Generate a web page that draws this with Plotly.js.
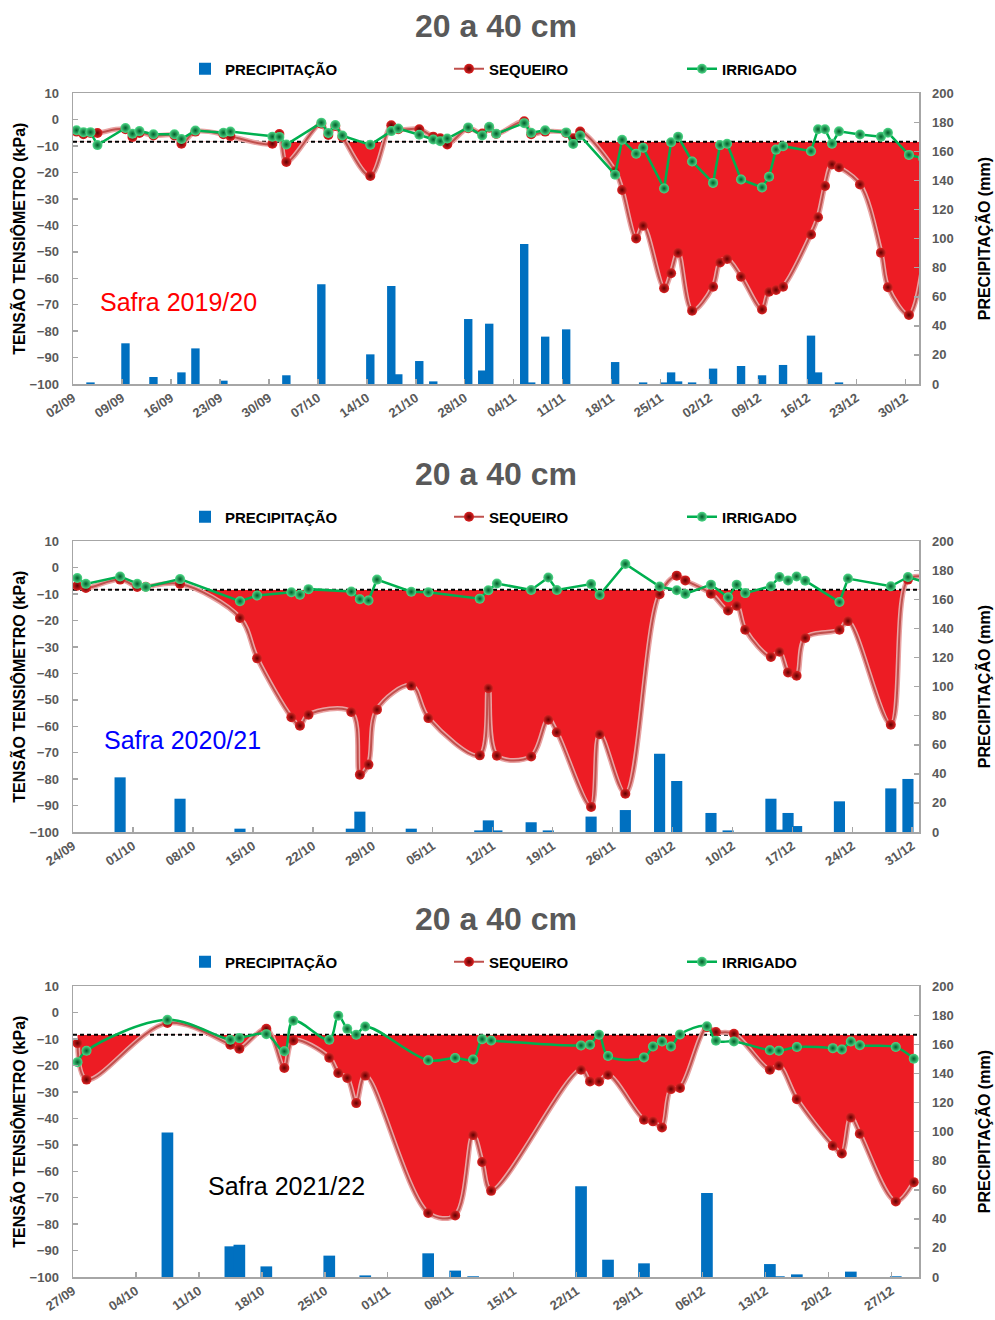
<!DOCTYPE html>
<html>
<head>
<meta charset="utf-8">
<script src="https://cdn.plot.ly/plotly-3.0.1.min.js"></script>
<style>html,body{margin:0;padding:0;background:#fff;}</style>
</head>
<body>
<div id="chart" style="width:995px;height:1320px;"></div>
<script>
// ---------------- DATA ----------------
const thresholdKPa = -8.3;

// Safra 2019/20
const dates2019 = ['2019-09-02','2019-09-03','2019-09-04','2019-09-05','2019-09-09','2019-09-10','2019-09-11','2019-09-13','2019-09-16','2019-09-17','2019-09-19','2019-09-23','2019-09-24','2019-09-30','2019-10-01','2019-10-02','2019-10-07','2019-10-08','2019-10-09','2019-10-10','2019-10-14','2019-10-17','2019-10-18','2019-10-21','2019-10-23','2019-10-24','2019-10-25','2019-10-28','2019-10-30','2019-10-31','2019-11-01','2019-11-05','2019-11-06','2019-11-08','2019-11-11','2019-11-12','2019-11-13','2019-11-18','2019-11-19','2019-11-21','2019-11-22','2019-11-25','2019-11-26','2019-11-27','2019-11-29','2019-12-02','2019-12-03','2019-12-04','2019-12-06','2019-12-09','2019-12-10','2019-12-11','2019-12-12','2019-12-16','2019-12-17','2019-12-18','2019-12-19','2019-12-20','2019-12-23','2019-12-26','2019-12-27','2019-12-30','2020-01-01'];
const sequeiro2019 = [-4.5,-5.5,-5,-5,-3.6,-6.5,-5,-6,-6,-9.1,-4.5,-5.5,-6.2,-9.1,-5.4,-16,-1.5,-5.8,-2.4,-6.5,-21.3,-2.1,-3.6,-3.6,-6.4,-7,-9.4,-3.2,-5.2,-3,-5.4,-0.6,-5.5,-4.5,-5,-7,-4.5,-19.5,-26.6,-44.9,-40.1,-63.8,-58.1,-50.3,-72.3,-63.2,-54,-52.7,-59.4,-71.8,-65.1,-64.4,-63.2,-43.4,-36.9,-25.1,-16.9,-18,-24.5,-50.3,-63.4,-73.9,-55];
const irrigado2019 = [-4,-4.7,-4.7,-9.6,-3.1,-5.3,-4.3,-5.5,-5.5,-7.3,-4.1,-4.9,-4.5,-6.4,-6.5,-9.4,-1.1,-5,-2,-6,-9.5,-4.3,-3.3,-5.7,-7.5,-8.1,-7.1,-2.9,-6,-2.7,-5.3,-1.3,-4.9,-4,-4.8,-9.2,-6,-20.8,-7.6,-12.9,-10.6,-26,-8.5,-6.4,-15.8,-23.9,-9.6,-9.1,-22.6,-25.6,-21.6,-11.3,-10,-11.9,-3.6,-3.6,-9.1,-4.4,-5.6,-6.4,-4.9,-13.3,-14.5];
const rainDates2019 = ['2019-09-04','2019-09-09','2019-09-13','2019-09-17','2019-09-19','2019-09-23','2019-10-02','2019-10-07','2019-10-14','2019-10-17','2019-10-18','2019-10-21','2019-10-23','2019-10-28','2019-10-30','2019-10-31','2019-11-05','2019-11-06','2019-11-08','2019-11-11','2019-11-18','2019-11-22','2019-11-25','2019-11-26','2019-11-27','2019-11-29','2019-12-02','2019-12-06','2019-12-09','2019-12-12','2019-12-16','2019-12-17','2019-12-20'];
const rain2019 = [1.1,28,4.8,8,24.5,2.3,6,68.6,20.4,67.4,6.7,15.8,1.8,44.7,9.3,41.5,96.3,1.1,32.6,37.6,15.1,1.1,1.1,8,1.8,1.1,10.6,12.4,6,13.1,33.3,8,1.1];

// Safra 2020/21
const dates2020 = ['2020-09-24','2020-09-25','2020-09-29','2020-10-01','2020-10-02','2020-10-06','2020-10-13','2020-10-15','2020-10-19','2020-10-20','2020-10-21','2020-10-26','2020-10-27','2020-10-28','2020-10-29','2020-11-02','2020-11-04','2020-11-10','2020-11-11','2020-11-12','2020-11-16','2020-11-18','2020-11-19','2020-11-23','2020-11-24','2020-11-27','2020-12-01','2020-12-03','2020-12-04','2020-12-07','2020-12-09','2020-12-10','2020-12-11','2020-12-14','2020-12-15','2020-12-16','2020-12-17','2020-12-18','2020-12-22','2020-12-23','2020-12-28','2020-12-30','2021-01-01'];
const sequeiro2020 = [-6.8,-7.7,-4.5,-7.3,-7.2,-6.1,-19,-34.3,-56.6,-59.8,-55.6,-54.6,-78.3,-74.5,-53.7,-44.6,-56.9,-71,-45.6,-71.1,-71.4,-57.5,-62.3,-90.5,-63,-85.5,-10,-3,-4.8,-9.8,-16.2,-14.4,-23.5,-33.8,-31.8,-39.6,-40.9,-26.6,-23.5,-20.2,-59.4,-4.5,-3.5];
const irrigado2020 = [-3.9,-6.1,-3.3,-6.1,-7.3,-4.3,-12.7,-10.5,-9.3,-10.2,-8.1,-9,-11.9,-12.4,-4.5,-9.1,-9.3,-11.7,-8.5,-6,-8.4,-3.7,-8.4,-6.2,-10.3,1.4,-7.1,-8.5,-9.9,-6.4,-11.2,-6.4,-9.6,-7,-3.5,-4.8,-3.3,-4.9,-13,-4.1,-7,-3.5,-5.5];
const rainDates2020 = ['2020-09-29','2020-10-06','2020-10-13','2020-10-26','2020-10-27','2020-11-02','2020-11-10','2020-11-11','2020-11-12','2020-11-16','2020-11-18','2020-11-23','2020-11-27','2020-12-01','2020-12-03','2020-12-07','2020-12-09','2020-12-14','2020-12-15','2020-12-16','2020-12-17','2020-12-22','2020-12-28','2020-12-30'];
const rain2020 = [37.6,22.9,2.3,2.3,14,2.3,1.1,8,1.1,6.7,1.1,10.6,15.1,53.9,35.1,13.1,1.1,22.9,1.6,13.1,4.1,21.1,30,36.5];

// Safra 2021/22
const dates2021 = ['2021-09-27','2021-09-28','2021-10-07','2021-10-14','2021-10-15','2021-10-18','2021-10-20','2021-10-21','2021-10-25','2021-10-26','2021-10-27','2021-10-28','2021-10-29','2021-11-05','2021-11-08','2021-11-10','2021-11-11','2021-11-12','2021-11-22','2021-11-23','2021-11-24','2021-11-25','2021-11-29','2021-11-30','2021-12-01','2021-12-02','2021-12-03','2021-12-06','2021-12-07','2021-12-09','2021-12-13','2021-12-14','2021-12-16','2021-12-20','2021-12-21','2021-12-22','2021-12-23','2021-12-27','2021-12-29'];
const sequeiro2021 = [-11.5,-25.3,-3.9,-12.1,-13.6,-6.1,-20.9,-10.5,-17,-22.8,-24.7,-34.2,-23.8,-75.8,-76.7,-46.3,-56.5,-67.4,-21.6,-26,-26,-23.5,-40.5,-41.1,-43.4,-28.9,-28.5,-5.5,-7.3,-8,-21.6,-20,-32.7,-50.3,-53.3,-39.6,-45.8,-71.4,-64.1];
const irrigado2021 = [-18.7,-14.4,-2.7,-10.2,-9.6,-8.1,-14.6,-3,-10.2,-1.1,-6.1,-8.3,-5.2,-18,-17.1,-17.7,-10,-10.5,-12.4,-12.1,-8.3,-16.4,-16.9,-12.8,-10.9,-12.8,-8.2,-5.1,-10.6,-10.9,-14.2,-14.4,-13,-13.4,-13.9,-10.9,-12.3,-13,-17.4];
const rainDates2021 = ['2021-10-07','2021-10-14','2021-10-15','2021-10-18','2021-10-25','2021-10-29','2021-11-05','2021-11-08','2021-11-10','2021-11-22','2021-11-25','2021-11-29','2021-12-06','2021-12-13','2021-12-14','2021-12-16','2021-12-22','2021-12-27'];
const rain2021 = [99.5,21.1,22.2,7.3,14.7,1.1,16.3,4.4,0.5,62.4,11.9,9.4,57.8,8.9,0.5,1.8,3.7,0.5];

const seriesNames = ['PRECIPITAÇÃO','SEQUEIRO','IRRIGADO'];
const panelTitle = '20 a 40 cm';
const safraLabels = ['Safra 2019/20','Safra 2020/21','Safra 2021/22'];
const yLeftTitle = 'TENSÃO TENSIÔMETRO (kPa)';
const yRightTitle = 'PRECIPITAÇÃO (mm)';

// ---------------- STYLE / LAYOUT ----------------
const W = 995, H = 1320;
const ML = 73, MR = 76, PW = W - ML - MR;
const px2x = px => (px - ML) / PW;   // page px -> paper x
const py2y = py => 1 - py / H;       // page px -> paper y
const NARROW = '"Liberation Sans Narrow", "Arial Narrow", "Liberation Sans", Arial, sans-serif';
const SANS = '"Liberation Sans", Arial, sans-serif';
const DAY = 86400000;
const noon = d => d + ' 12:00';

const panels = [
  {dates: dates2019, seq: sequeiro2019, irr: irrigado2019, rd: rainDates2019, rain: rain2019,
   range: ['2019-09-02', '2019-12-31 22:30'], x: 'x', y: 'y', y2: 'y2', irrShape: 'linear', barW: 1.2,
   top: 93.3, bottom: 384, legY: 69, titleY: 26, safra: {x: 98, y: 302, color: '#ff0000'}},
  {dates: dates2020, seq: sequeiro2020, irr: irrigado2020, rd: rainDates2020, rain: rain2020,
   range: ['2020-09-24', '2020-12-31 19:00'], x: 'x2', y: 'y3', y2: 'y4', irrShape: 'linear', barW: 1.3,
   top: 541.3, bottom: 832, legY: 517, titleY: 474, safra: {x: 102, y: 740, color: '#0000ff'}},
  {dates: dates2021, seq: sequeiro2021, irr: irrigado2021, rd: rainDates2021, rain: rain2021,
   range: ['2021-09-27', '2021-12-30 02:00'], x: 'x3', y: 'y5', y2: 'y6', irrShape: 'spline', barW: 1.3,
   top: 986.3, bottom: 1277, legY: 962, titleY: 919, safra: {x: 206, y: 1186, color: '#000000'}}
];

const traces = [];
const layout = {
  width: W, height: H,
  margin: {l: ML, r: MR, t: 0, b: 0, pad: 0},
  paper_bgcolor: '#ffffff', plot_bgcolor: '#ffffff',
  showlegend: true, hovermode: false,
  annotations: []
};

const tickFont = {family: SANS, size: 13, color: '#595959', weight: 'bold'};
const titleFont = {family: NARROW, size: 16, color: '#000000', weight: 'bold'};
const lineCol = '#a6a6a6';

panels.forEach((p, i) => {
  const xs = p.dates.map(noon);
  const n = xs.length;
  const legBase = i * 3;
  const legName = k => (legBase + k === 0 ? 'legend' : 'legend' + (legBase + k + 1));

  // baseline at threshold for the deficit fill
  traces.push({x: [xs[0], xs[n - 1]], y: [thresholdKPa, thresholdKPa], xaxis: p.x, yaxis: p.y,
    mode: 'lines', line: {width: 0, color: 'rgba(0,0,0,0)'}, showlegend: false, hoverinfo: 'skip'});
  // red deficit area (sequeiro curve down from threshold)
  traces.push({x: xs, y: p.seq, xaxis: p.x, yaxis: p.y, mode: 'lines',
    line: {width: 0, shape: 'spline', smoothing: 1, color: 'rgba(0,0,0,0)'},
    fill: 'tonexty', fillcolor: '#ed1c24', showlegend: false, hoverinfo: 'skip'});
  // white cover above threshold (keeps fill only below the threshold line)
  traces.push({x: p.range, y: [thresholdKPa, thresholdKPa], xaxis: p.x, yaxis: p.y,
    mode: 'lines', line: {width: 0, color: 'rgba(0,0,0,0)'}, showlegend: false, hoverinfo: 'skip'});
  traces.push({x: p.range, y: [10, 10], xaxis: p.x, yaxis: p.y, mode: 'lines',
    line: {width: 0, color: 'rgba(0,0,0,0)'}, fill: 'tonexty', fillcolor: '#ffffff',
    showlegend: false, hoverinfo: 'skip'});
  // threshold dashed line
  traces.push({x: p.range, y: [thresholdKPa, thresholdKPa], xaxis: p.x, yaxis: p.y, mode: 'lines',
    line: {width: 2, color: '#000000', dash: '4px,3px'}, showlegend: false, hoverinfo: 'skip'});
  // sequeiro glow
  traces.push({x: xs, y: p.seq, xaxis: p.x, yaxis: p.y, mode: 'lines',
    line: {width: 5, shape: 'spline', smoothing: 1, color: '#e9a3a3'}, showlegend: false, hoverinfo: 'skip'});
  // sequeiro
  traces.push({x: xs, y: p.seq, xaxis: p.x, yaxis: p.y, mode: 'lines+markers', name: seriesNames[1],
    legend: legName(1),
    line: {width: 2, shape: 'spline', smoothing: 1, color: '#c0504d'},
    marker: {size: 10, color: '#e02424', line: {width: 0}, gradient: {type: 'radial', color: '#5e0000'}}});
  // irrigado
  traces.push({x: xs, y: p.irr, xaxis: p.x, yaxis: p.y, mode: 'lines+markers', name: seriesNames[2],
    legend: legName(2),
    line: {width: 2.5, shape: p.irrShape, smoothing: 1, color: '#00b050'},
    marker: {size: 10, color: '#4fdc8a', line: {width: 0}, gradient: {type: 'radial', color: '#005a28'}}});
  // precipitation bars
  traces.push({type: 'bar', x: p.rd.map(noon), y: p.rain, xaxis: p.x, yaxis: p.y2, name: seriesNames[0],
    legend: legName(0), width: p.barW * DAY, marker: {color: '#0070c0', line: {width: 0}}});

  const dom = [1 - p.bottom / H, 1 - p.top / H];
  const xKey = i === 0 ? 'xaxis' : 'xaxis' + (i + 1);
  const yKey = p.y === 'y' ? 'yaxis' : 'yaxis' + p.y.slice(1);
  const y2Key = 'yaxis' + p.y2.slice(1);

  layout[xKey] = {
    type: 'date', domain: [0, 1], anchor: p.y, range: p.range,
    tick0: p.dates[0], dtick: 7 * DAY, tickformat: '%d/%m', tickangle: -34,
    ticks: 'inside', ticklen: 5, tickcolor: lineCol, tickwidth: 1.5,
    showline: true, mirror: true, linecolor: lineCol, linewidth: 1.5,
    showgrid: false, zeroline: false, tickfont: tickFont, automargin: false
  };
  layout[yKey] = {
    domain: dom, anchor: p.x, range: [-100, 10], dtick: 10, tick0: 0,
    ticks: 'inside', ticklen: 5, tickcolor: lineCol, tickwidth: 1.5, ticklabelstandoff: 10,
    showline: true, mirror: true, linecolor: lineCol, linewidth: 1.5,
    showgrid: false, zeroline: false, tickfont: tickFont, automargin: false,
    title: {text: yLeftTitle, font: titleFont, standoff: 0}
  };
  layout[y2Key] = {
    overlaying: p.y, side: 'right', anchor: p.x, range: [0, 200], dtick: 20, tick0: 0,
    ticks: 'inside', ticklen: 5, tickcolor: lineCol, tickwidth: 1.5, ticklabelstandoff: 12,
    showline: false, showgrid: false, zeroline: false, tickfont: tickFont, automargin: false,
    title: {text: yRightTitle, font: titleFont, standoff: 26}
  };

  // legends: one per entry so each sits at its own place
  const legX = [185, 449, 682];
  [0, 1, 2].forEach(k => {
    layout[legName(k)] = {
      x: px2x(legX[k]), xanchor: 'left', y: py2y(p.legY), yanchor: 'middle',
      orientation: 'h', bgcolor: 'rgba(0,0,0,0)', borderwidth: 0,
      font: {family: NARROW, size: 15, color: '#000000', weight: 'bold'}
    };
  });

  layout.annotations.push({
    text: panelTitle, xref: 'paper', yref: 'paper', x: px2x(496), y: py2y(p.titleY),
    xanchor: 'center', yanchor: 'middle', showarrow: false,
    font: {family: SANS, size: 32, color: '#595959', weight: 'bold'}
  });
  layout.annotations.push({
    text: safraLabels[i], xref: 'paper', yref: 'paper', x: px2x(p.safra.x), y: py2y(p.safra.y),
    xanchor: 'left', yanchor: 'middle', showarrow: false,
    font: {family: SANS, size: 25, color: p.safra.color}
  });
});

Plotly.newPlot('chart', traces, layout, {displayModeBar: false, staticPlot: true});
</script>
</body>
</html>
